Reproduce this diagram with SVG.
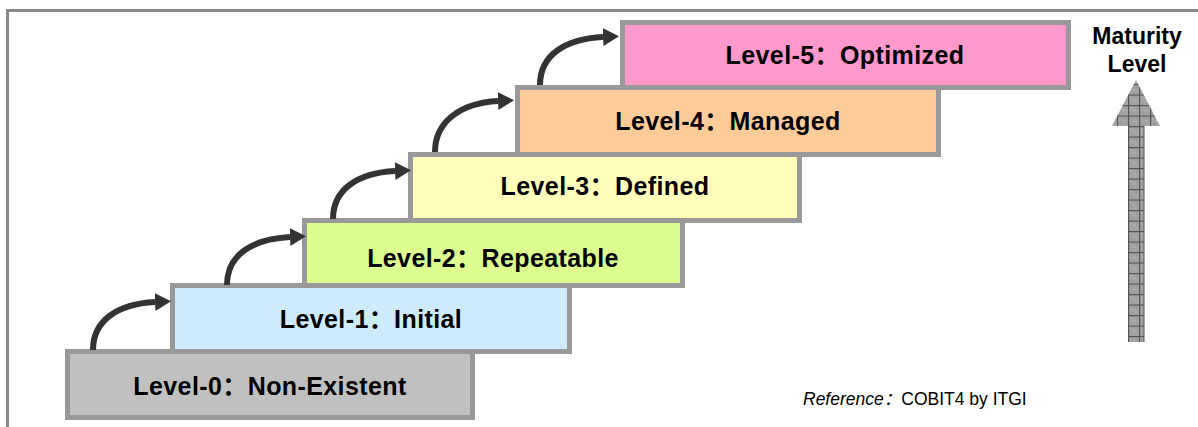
<svg xmlns="http://www.w3.org/2000/svg" width="1198" height="427" viewBox="0 0 1198 427">
<style>
.box{stroke:#999999;stroke-width:5}
.lbl{font-family:"Liberation Sans","Noto Sans CJK SC",Arial,sans-serif;font-weight:bold;font-size:25px;letter-spacing:0.4px;fill:#000;text-anchor:middle}
.conn{fill:none;stroke:#333333;stroke-width:6}
</style>
<defs>
<marker id="ah" viewBox="0 0 16 18" refX="0" refY="9" markerWidth="16" markerHeight="18" markerUnits="userSpaceOnUse" orient="auto">
<path d="M0,0 L16,9 L0,18 z" fill="#333333"/>
</marker>
<pattern id="grid" patternUnits="userSpaceOnUse" x="1128" y="126" width="11" height="10.5">
<rect width="11" height="10.5" fill="#a3a3a3"/>
<rect x="2" y="2" width="1" height="1" fill="#cfcfcf"/>
<rect x="6" y="5" width="1" height="1" fill="#cfcfcf"/>
<rect x="4" y="8" width="1" height="1" fill="#8a8a8a"/>
<rect x="8" y="3" width="1" height="1" fill="#8a8a8a"/>
<rect x="0" y="0" width="11" height="1.2" fill="#555555"/>
<rect x="0" y="0" width="1.2" height="10.5" fill="#555555"/>
</pattern>
</defs>
<rect x="7.5" y="10.5" width="1200" height="430" fill="#ffffff" stroke="#888888" stroke-width="3"/>

<g id="level0"><rect class="box" x="67.5" y="351.5" width="405" height="66" fill="#c0c0c0"/><text class="lbl" x="270" y="395">Level-0：Non-Existent</text></g>
<g id="level1"><rect class="box" x="172.5" y="285.5" width="397" height="66" fill="#cdebfb"/><text class="lbl" x="371" y="328">Level-1：Initial</text></g>
<g id="level2"><rect class="box" x="304.5" y="220.5" width="378" height="65" fill="#dbfe8f"/><text class="lbl" x="493" y="267">Level-2：Repeatable</text></g>
<g id="level3"><rect class="box" x="410.5" y="154.5" width="389" height="66" fill="#ffffbb"/><text class="lbl" x="605" y="195">Level-3：Defined</text></g>
<g id="level4"><rect class="box" x="517.5" y="87.5" width="421" height="67" fill="#ffcc99"/><text class="lbl" x="728" y="130">Level-4：Managed</text></g>
<g id="level5"><rect class="box" x="622.5" y="22.5" width="446" height="65" fill="#ff99cc"/><text class="lbl" x="845" y="64">Level-5：Optimized</text></g>

<g id="connectors">
<path class="conn" marker-end="url(#ah)" d="M93,350 C93,320 118,304 155,302"/>
<path class="conn" marker-end="url(#ah)" d="M227,285 C227,255 252,239 290,237"/>
<path class="conn" marker-end="url(#ah)" d="M333,219 C333,189 358,173 395,171"/>
<path class="conn" marker-end="url(#ah)" d="M435,152 C435,122 460,103 498,101"/>
<path class="conn" marker-end="url(#ah)" d="M540,85 C540,55 565,39 603,37"/>
</g>

<g id="maturity">
<text font-family="Liberation Sans,Arial,sans-serif" font-weight="bold" font-size="23" text-anchor="middle" x="1137" y="44">Maturity</text>
<text font-family="Liberation Sans,Arial,sans-serif" font-weight="bold" font-size="23" text-anchor="middle" x="1137" y="72">Level</text>
<path d="M1136,80 L1160,126 L1144,126 L1144,342 L1128,342 L1128,126 L1112,126 Z" fill="url(#grid)"/>
<line x1="1144" y1="126" x2="1144" y2="342" stroke="#555555" stroke-width="1"/>
</g>

<text font-family="Liberation Sans,'Noto Sans CJK SC',Arial,sans-serif" font-size="17.5" x="803" y="405"><tspan font-style="italic">Reference：</tspan>COBIT4 by ITGI</text>
</svg>
